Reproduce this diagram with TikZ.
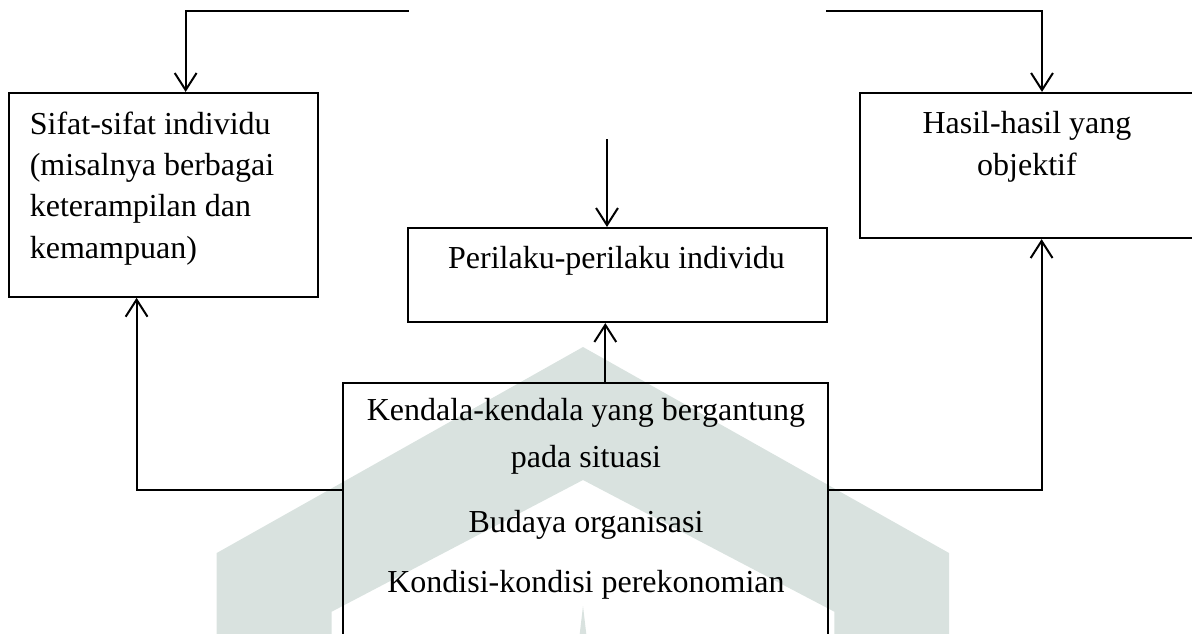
\documentclass[tikz,border=0pt]{standalone}
\usepackage{fontspec}
\setmainfont{Liberation Serif}
\usetikzlibrary{arrows.meta}
\definecolor{wmark}{RGB}{217,226,223}
\tikzset{
  box/.style={draw,line width=0.8pt,inner sep=0pt},
  arr/.style={line width=0.75pt,-{Straight Barb[length=6.4pt,width=8.2pt]}},
  txt/.style={inner sep=0pt,font=\fontsize{12}{15.5}\selectfont}
}

\begin{document}
\begin{tikzpicture}[x=0.375pt,y=-0.375pt]
    \useasboundingbox (0,0) rectangle (1192,633);
    \clip (0,0) rectangle (1192,633);
    \fill[wmark] (216.7,640) -- (216.7,553) -- (583,347) -- (949,553) -- (949,640) -- (834.3,640) -- (834.3,611.7) -- (583,480) -- (331.7,611.7) -- (331.7,640) -- cycle;
    \fill[wmark] (583,606) -- (587,640) -- (579,640) -- cycle;

    \node[box,minimum width=115.8pt,minimum height=76.4pt] (sifat) at (163.25,194.85) {};
    \node[box,minimum width=157.1pt,minimum height=35.25pt] (perilaku) at (617.2,275) {};
    \node[box,minimum width=126pt,minimum height=54.4pt] (hasil) at (1028,165.5) {};
    \node[box,minimum width=182pt,minimum height=112.5pt] (kendala) at (585.3,533) {};

    \node[txt,anchor=base west,align=left] (sifattxt) at (29.3,258) {Sifat-sifat individu\\(misalnya berbagai\\keterampilan dan\\kemampuan)};
    \node[txt,anchor=base] (perilakutxt) at (616.5,268) {Perilaku-perilaku individu};
    \node[txt,anchor=base,align=center] (hasiltxt) at (1027,175) {Hasil-hasil yang\\objektif};
    \node[txt,anchor=base,align=center] (kendalatxt) at (586,592) {Kendala-kendala yang bergantung\\[2.1pt]pada situasi\\[8.9pt]Budaya organisasi\\[6.8pt]Kondisi-kondisi perekonomian};

    \coordinate (tl) at (408.7,11);
    \coordinate (tr) at (826,11);
    \coordinate (tm) at (607,139);
    \draw[arr] (tl) -| ([xshift=8.4pt]sifat.north);
    \draw[arr] (tr) -| ([xshift=5.25pt]hasil.north);
    \draw[arr] (tm) -- (tm |- perilaku.north);
    \draw[arr] ([xshift=7.5pt]kendala.north) -- ([xshift=7.5pt]kendala.north |- perilaku.south);
    \draw[arr] ([yshift=16.1pt]kendala.west) -| ([xshift=-10pt]sifat.south);
    \draw[arr] ([yshift=16.1pt]kendala.east) -| ([xshift=5.1pt]hasil.south);
\end{tikzpicture}
\end{document}
